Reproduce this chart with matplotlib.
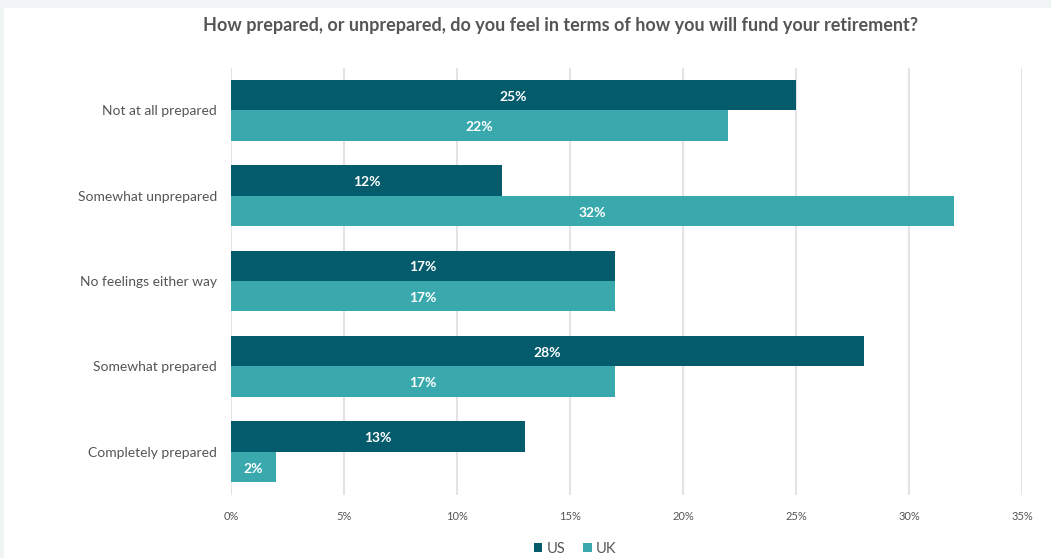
import matplotlib
matplotlib.use("Agg")
import matplotlib.pyplot as plt
import numpy as np
from matplotlib.patches import Rectangle, Patch

categories = ["Not at all prepared", "Somewhat unprepared", "No feelings either way",
              "Somewhat prepared", "Completely prepared"]
us_values = [25, 12, 17, 28, 13]
uk_values = [22, 32, 17, 17, 2]
x_ticks = [0, 5, 10, 15, 20, 25, 30, 35]
x_tick_labels = ["0%", "5%", "10%", "15%", "20%", "25%", "30%", "35%"]
series_names = ["US", "UK"]

us_color = "#045b6c"
uk_color = "#3aa9ad"
text_gray = "#555555"

plt.rcParams["font.family"] = ["Lato", "DejaVu Sans"]

fig = plt.figure(figsize=(10.51, 5.58), dpi=100)
fig.patch.set_facecolor("#f1f4f5")
# white panel
fig.add_artist(Rectangle((4 / 1051, 0), 1 - 4 / 1051, 1 - 8 / 558,
                         transform=fig.transFigure, facecolor="white",
                         edgecolor="none", zorder=0))

ax = fig.add_axes([231 / 1051, 1 - 494.5 / 558, (1022 - 231) / 1051, (494.5 - 67.5) / 558])
ax.set_facecolor("none")

y = np.arange(len(categories))
h = 0.357
bars_us = ax.barh(y - h / 2, us_values, height=h, color=us_color, zorder=2)
bars_uk = ax.barh(y + h / 2, uk_values, height=h, color=uk_color, zorder=2)

for bars, vals in ((bars_us, us_values), (bars_uk, uk_values)):
    for b, v in zip(bars, vals):
        ax.text(v / 2, b.get_y() + b.get_height() / 2 + 0.02, f"{v}%", color="white",
                fontsize=10, fontweight="bold", ha="center", va="center", zorder=3)

ax.set_xlim(0, 35)
ax.set_ylim(len(categories) - 0.5, -0.5)
ax.set_xticks(x_ticks)
ax.set_xticklabels(x_tick_labels, fontsize=8, color=text_gray)
ax.set_yticks(y)
ax.set_yticklabels(categories, fontsize=10, color=text_gray)
ax.tick_params(axis="both", length=0)
ax.tick_params(axis="x", pad=12)
ax.tick_params(axis="y", pad=10)
ax.grid(axis="x", color="#e3e3e3", linewidth=1.5, zorder=1)
ax.set_axisbelow(True)
for s in ax.spines.values():
    s.set_visible(False)

fig.text(561 / 1051, 1 - 26 / 558,
         "How prepared, or unprepared, do you feel in terms of how you will fund your retirement?",
         ha="center", va="center", fontsize=13, fontweight="bold", color=text_gray)

handles = [Patch(facecolor=us_color, label=series_names[0]),
           Patch(facecolor=uk_color, label=series_names[1])]
leg = fig.legend(handles=handles, loc="center", bbox_to_anchor=(575 / 1051, 1 - 549 / 558),
                 ncol=2, frameon=False, fontsize=10.5, handlelength=0.6, handleheight=0.6,
                 handletextpad=0.3, columnspacing=1.2)
for t in leg.get_texts():
    t.set_color(text_gray)

fig.savefig("out.png", dpi=100)
